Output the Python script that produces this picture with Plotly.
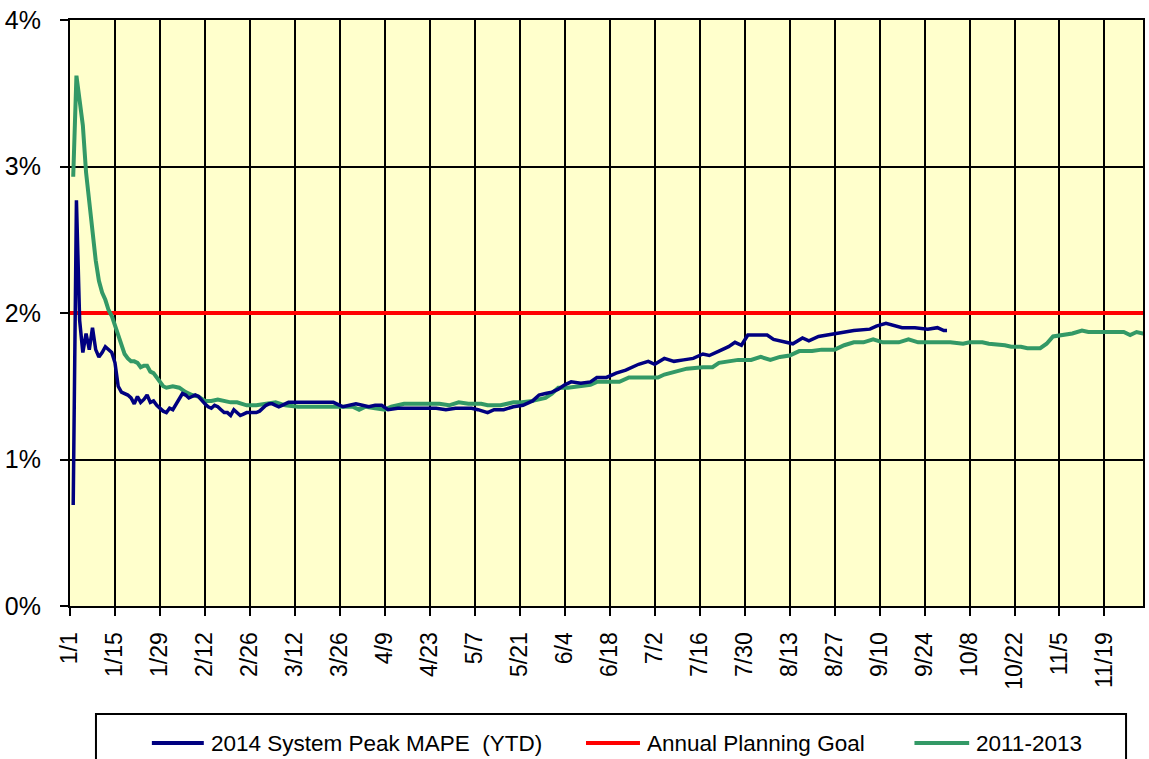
import pandas as pd
import plotly.graph_objects as go

# ---- data -------------------------------------------------------------
mape_2014_dates = [
    "1/2", "1/3", "1/4", "1/5", "1/6", "1/7", "1/8", "1/9", "1/10", "1/11",
    "1/12", "1/13", "1/14", "1/15", "1/16", "1/17", "1/18", "1/19", "1/20", "1/21",
    "1/22", "1/23", "1/24", "1/25", "1/26", "1/27", "1/28", "1/29", "1/30", "1/31",
    "2/1", "2/2", "2/3", "2/4", "2/5", "2/6", "2/7", "2/8", "2/9", "2/10",
    "2/11", "2/12", "2/13", "2/14", "2/15", "2/16", "2/17", "2/18", "2/19", "2/20",
    "2/21", "2/22", "2/23", "2/24", "2/25", "2/26", "2/27", "2/28", "3/1", "3/2",
    "3/3", "3/4", "3/5", "3/6", "3/7", "3/8", "3/9", "3/10", "3/14", "3/18",
    "3/21", "3/24", "3/26", "3/27", "3/29", "3/31", "4/2", "4/4", "4/6", "4/8",
    "4/10", "4/13", "4/17", "4/21", "4/25", "4/28", "5/1", "5/4", "5/6", "5/8",
    "5/11", "5/13", "5/16", "5/19", "5/22", "5/25", "5/27", "5/29", "5/31", "6/2",
    "6/4", "6/6", "6/9", "6/12", "6/14", "6/17", "6/20", "6/23", "6/25", "6/27",
    "6/30", "7/2", "7/5", "7/8", "7/11", "7/14", "7/17", "7/19", "7/22", "7/25",
    "7/27", "7/29", "7/31", "8/3", "8/6", "8/8", "8/12", "8/14", "8/17", "8/19",
    "8/22", "8/25", "8/28", "8/30", "9/2", "9/7", "9/9", "9/12", "9/14", "9/17",
    "9/21", "9/25", "9/28", "9/30", "10/1",
]
mape_2014 = [
    0.69, 2.77, 1.95, 1.73, 1.86, 1.75, 1.90, 1.75, 1.70, 1.73,
    1.77, 1.75, 1.73, 1.66, 1.50, 1.46, 1.45, 1.44, 1.42, 1.38,
    1.43, 1.39, 1.41, 1.44, 1.39, 1.40, 1.37, 1.35, 1.33, 1.32,
    1.35, 1.34, 1.38, 1.41, 1.45, 1.44, 1.42, 1.43, 1.44, 1.43,
    1.40, 1.38, 1.36, 1.35, 1.37, 1.36, 1.34, 1.32, 1.32, 1.30,
    1.34, 1.32, 1.30, 1.31, 1.32, 1.32, 1.32, 1.32, 1.33, 1.35,
    1.37, 1.38, 1.38, 1.37, 1.36, 1.37, 1.38, 1.39, 1.39, 1.39,
    1.39, 1.39, 1.37, 1.36, 1.37, 1.38, 1.37, 1.36, 1.37, 1.37,
    1.34, 1.35, 1.35, 1.35, 1.35, 1.34, 1.35, 1.35, 1.35, 1.34,
    1.32, 1.34, 1.34, 1.36, 1.37, 1.40, 1.44, 1.45, 1.46, 1.48,
    1.51, 1.53, 1.52, 1.53, 1.56, 1.56, 1.59, 1.61, 1.63, 1.65,
    1.67, 1.65, 1.69, 1.67, 1.68, 1.69, 1.72, 1.71, 1.74, 1.77,
    1.80, 1.78, 1.85, 1.85, 1.85, 1.82, 1.80, 1.79, 1.83, 1.81,
    1.84, 1.85, 1.86, 1.87, 1.88, 1.89, 1.91, 1.93, 1.92, 1.90,
    1.90, 1.89, 1.90, 1.88, 1.88,
]

hist_dates = [
    "1/2", "1/3", "1/4", "1/5", "1/6", "1/7", "1/8", "1/9", "1/10", "1/11",
    "1/12", "1/13", "1/14", "1/15", "1/16", "1/17", "1/18", "1/19", "1/20", "1/21",
    "1/22", "1/23", "1/24", "1/25", "1/26", "1/27", "1/28", "1/29", "1/30", "1/31",
    "2/2", "2/4", "2/6", "2/8", "2/10", "2/12", "2/14", "2/16", "2/18", "2/20",
    "2/22", "2/25", "2/28", "3/3", "3/6", "3/9", "3/13", "3/17", "3/21", "3/26",
    "3/30", "4/1", "4/3", "4/6", "4/9", "4/11", "4/15", "4/22", "4/26", "4/29",
    "5/2", "5/5", "5/9", "5/11", "5/15", "5/19", "5/21", "5/25", "5/27", "5/29",
    "5/31", "6/2", "6/5", "6/9", "6/12", "6/14", "6/21", "6/24", "6/29", "7/3",
    "7/5", "7/9", "7/12", "7/17", "7/20", "7/22", "7/25", "7/28", "8/1", "8/4",
    "8/7", "8/10", "8/13", "8/16", "8/20", "8/23", "8/27", "8/30", "9/2", "9/5",
    "9/8", "9/11", "9/16", "9/19", "9/22", "10/2", "10/6", "10/8", "10/12", "10/14",
    "10/19", "10/21", "10/24", "10/26", "10/30", "11/1", "11/3", "11/6", "11/9", "11/12",
    "11/14", "11/20", "11/25", "11/27", "11/29", "12/1", "12/3",
]
hist_2011_2013 = [
    2.93, 3.62, 3.45, 3.28, 2.96, 2.75, 2.52, 2.36, 2.22, 2.14,
    2.09, 2.02, 1.98, 1.91, 1.84, 1.78, 1.72, 1.69, 1.67, 1.67,
    1.66, 1.63, 1.64, 1.64, 1.60, 1.59, 1.56, 1.53, 1.50, 1.49,
    1.50, 1.49, 1.46, 1.44, 1.43, 1.40, 1.40, 1.41, 1.40, 1.39,
    1.39, 1.37, 1.37, 1.38, 1.39, 1.37, 1.36, 1.36, 1.36, 1.36,
    1.36, 1.34, 1.36, 1.35, 1.34, 1.36, 1.38, 1.38, 1.38, 1.37,
    1.39, 1.38, 1.38, 1.37, 1.37, 1.39, 1.39, 1.40, 1.41, 1.42,
    1.45, 1.49, 1.49, 1.50, 1.51, 1.53, 1.53, 1.56, 1.56, 1.56,
    1.58, 1.60, 1.62, 1.63, 1.63, 1.66, 1.67, 1.68, 1.68, 1.70,
    1.68, 1.70, 1.71, 1.74, 1.74, 1.75, 1.75, 1.78, 1.80, 1.80,
    1.82, 1.80, 1.80, 1.82, 1.80, 1.80, 1.79, 1.80, 1.80, 1.79,
    1.78, 1.77, 1.77, 1.76, 1.76, 1.79, 1.84, 1.85, 1.86, 1.88,
    1.87, 1.87, 1.87, 1.85, 1.87, 1.86, 1.86,
]

goal_dates = ["1/1", "12/31"]
planning_goal = [2.0, 2.0]

tick_labels = [
    "1/1", "1/15", "1/29", "2/12", "2/26", "3/12", "3/26", "4/9", "4/23",
    "5/7", "5/21", "6/4", "6/18", "7/2", "7/16", "7/30", "8/13", "8/27",
    "9/10", "9/24", "10/8", "10/22", "11/5", "11/19",
]
y_ticks = [0, 1, 2, 3, 4]

series_names = ["2014 System Peak MAPE\u00a0 (YTD)", "Annual Planning Goal", "2011-2013"]
series_colors = ["#000080", "#FF0000", "#339966"]


def to_date(md):
    return pd.to_datetime("2014/" + md, format="%Y/%m/%d")


# ---- figure -----------------------------------------------------------
FONT = "Liberation Sans, Arial, sans-serif"

fig = go.Figure()
fig.add_trace(go.Scatter(
    x=[to_date(d) for d in goal_dates], y=planning_goal, mode="lines",
    line=dict(color=series_colors[1], width=4), showlegend=False,
))
fig.add_trace(go.Scatter(
    x=[to_date(d) for d in hist_dates], y=hist_2011_2013, mode="lines",
    line=dict(color=series_colors[2], width=4), showlegend=False,
))
fig.add_trace(go.Scatter(
    x=[to_date(d) for d in mape_2014_dates], y=mape_2014, mode="lines",
    line=dict(color=series_colors[0], width=3.5), showlegend=False,
))

fig.update_xaxes(
    type="date",
    range=[to_date("1/1"), to_date("12/1")],
    tickvals=[to_date(t) for t in tick_labels],
    ticktext=tick_labels,
    tickangle=-90,
    ticks="outside", ticklen=8, tickwidth=2, tickcolor="black",
    showgrid=True, gridcolor="black", gridwidth=2,
    showline=True, linecolor="black", linewidth=2, mirror=True,
    tickfont=dict(family=FONT, size=23, color="black"),
    ticklabelstandoff=7,
    zeroline=False,
)
fig.update_yaxes(
    range=[0, 4],
    tickvals=y_ticks,
    ticktext=[f"{v}%" for v in y_ticks],
    ticks="outside", ticklen=8, tickwidth=2, tickcolor="black",
    showgrid=True, gridcolor="black", gridwidth=2,
    showline=True, linecolor="black", linewidth=2, mirror=True,
    tickfont=dict(family=FONT, size=25, color="black"),
    ticklabelstandoff=14,
    zeroline=False,
)

# Legend drawn as a framed strip under the axis
shapes = [dict(
    type="rect", xref="paper", yref="paper",
    x0=0.0242, x1=0.9842, y0=-0.1843, y1=-0.30,
    line=dict(color="black", width=2), fillcolor="white", layer="below",
)]
annotations = []
sample_x = [(0.0763, 0.1247), (0.4809, 0.5312), (0.7870, 0.8380)]
legend_y = -0.2338
for (x0, x1), name, color in zip(sample_x, series_names, series_colors):
    shapes.append(dict(
        type="line", xref="paper", yref="paper",
        x0=x0, x1=x1, y0=legend_y, y1=legend_y,
        line=dict(color=color, width=4),
    ))
    annotations.append(dict(
        xref="paper", yref="paper", x=x1 + 0.0045, y=legend_y,
        xanchor="left", yanchor="middle", text=name, showarrow=False,
        font=dict(family=FONT, size=22.5, color="black"),
    ))

fig.update_layout(
    width=1149, height=759,
    margin=dict(l=70, r=4, t=20, b=153),
    plot_bgcolor="#FFFFCC",
    paper_bgcolor="white",
    shapes=shapes,
    annotations=annotations,
    showlegend=False,
)

fig.write_html("out.html")
